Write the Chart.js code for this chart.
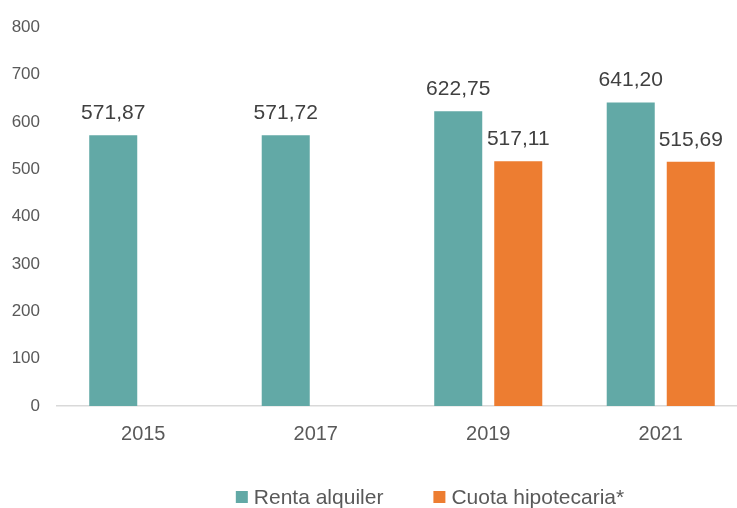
<!DOCTYPE html>
<html>
<head>
<meta charset="utf-8">
<script src="https://cdn.jsdelivr.net/npm/chart.js@4"></script>
<style>
  html, body { margin: 0; padding: 0; background: #ffffff; overflow: hidden; width: 737px; height: 508px; }
  #wrap { position: absolute; left: 0; top: 0; width: 748px; height: 508px; }
</style>
</head>
<body>
<div id="wrap"><canvas id="c"></canvas></div>
<script>
const years = ['2015', '2017', '2019', '2021'];
const rentaAlquiler = [571.87, 571.72, 622.75, 641.20];
const cuotaHipotecaria = [null, null, 517.11, 515.69];
const seriesNames = ['Renta alquiler', 'Cuota hipotecaria*'];
const yMin = 0, yMax = 800, yStep = 100;

const colTeal = '#62A9A6';
const colOrange = '#ED7D31';
const FONT = '"Liberation Sans", Arial, sans-serif';

function fmt(v) { return v.toFixed(2).replace('.', ','); }

const valueLabels = {
  id: 'valueLabels',
  afterDatasetsDraw(chart) {
    const ctx = chart.ctx;
    ctx.save();
    ctx.font = '21px ' + FONT;
    ctx.fillStyle = '#404040';
    ctx.textAlign = 'center';
    ctx.textBaseline = 'middle';
    chart.data.datasets.forEach((ds, di) => {
      const meta = chart.getDatasetMeta(di);
      meta.data.forEach((bar, i) => {
        const v = ds.data[i];
        if (v === null || v === undefined) return;
        ctx.fillText(fmt(v), bar.x, bar.y - 22);
      });
    });
    ctx.restore();
  }
};

const customLegend = {
  id: 'customLegend',
  afterDraw(chart) {
    const ctx = chart.ctx;
    ctx.save();
    ctx.font = '21px ' + FONT;
    ctx.textBaseline = 'middle';
    ctx.textAlign = 'left';
    const box = 12, gapText = 6, gapItem = 50;
    const colors = [colTeal, colOrange];
    const widths = seriesNames.map(n => ctx.measureText(n).width);
    let total = 0;
    widths.forEach((w, i) => { total += box + gapText + w + (i < widths.length - 1 ? gapItem : 0); });
    let x = 430 - total / 2;
    const y = 497;
    seriesNames.forEach((n, i) => {
      ctx.fillStyle = colors[i];
      ctx.fillRect(x, y - box / 2, box, box);
      x += box + gapText;
      ctx.fillStyle = '#595959';
      ctx.fillText(n, x, y + 1);
      x += widths[i] + gapItem;
    });
    ctx.restore();
  }
};

new Chart(document.getElementById('c'), {
  type: 'bar',
  data: {
    labels: years,
    datasets: [
      { label: seriesNames[0], data: rentaAlquiler, backgroundColor: colTeal,
        categoryPercentage: 0.696, barPercentage: 0.8 },
      { label: seriesNames[1], data: cuotaHipotecaria, backgroundColor: colOrange,
        categoryPercentage: 0.696, barPercentage: 0.8 }
    ]
  },
  options: {
    responsive: true,
    maintainAspectRatio: false,
    animation: false,
    layout: { padding: { top: 24, right: 1, left: 0, bottom: 0 } },
    plugins: {
      legend: { display: false },
      tooltip: { enabled: false }
    },
    scales: {
      x: {
        grid: { display: false, drawTicks: false },
        border: { display: true, color: '#D9D9D9', width: 1.5 },
        ticks: { color: '#595959', font: { family: FONT, size: 20 }, padding: 16 },
        afterFit(scale) { scale.height = 102; }
      },
      y: {
        min: yMin, max: yMax,
        grid: { display: false, drawTicks: false },
        border: { display: false },
        ticks: { stepSize: yStep, color: '#595959', font: { family: FONT, size: 17 }, padding: 17 },
        afterFit(scale) { scale.width = 57; }
      }
    }
  },
  plugins: [valueLabels, customLegend]
});
</script>
</body>
</html>
